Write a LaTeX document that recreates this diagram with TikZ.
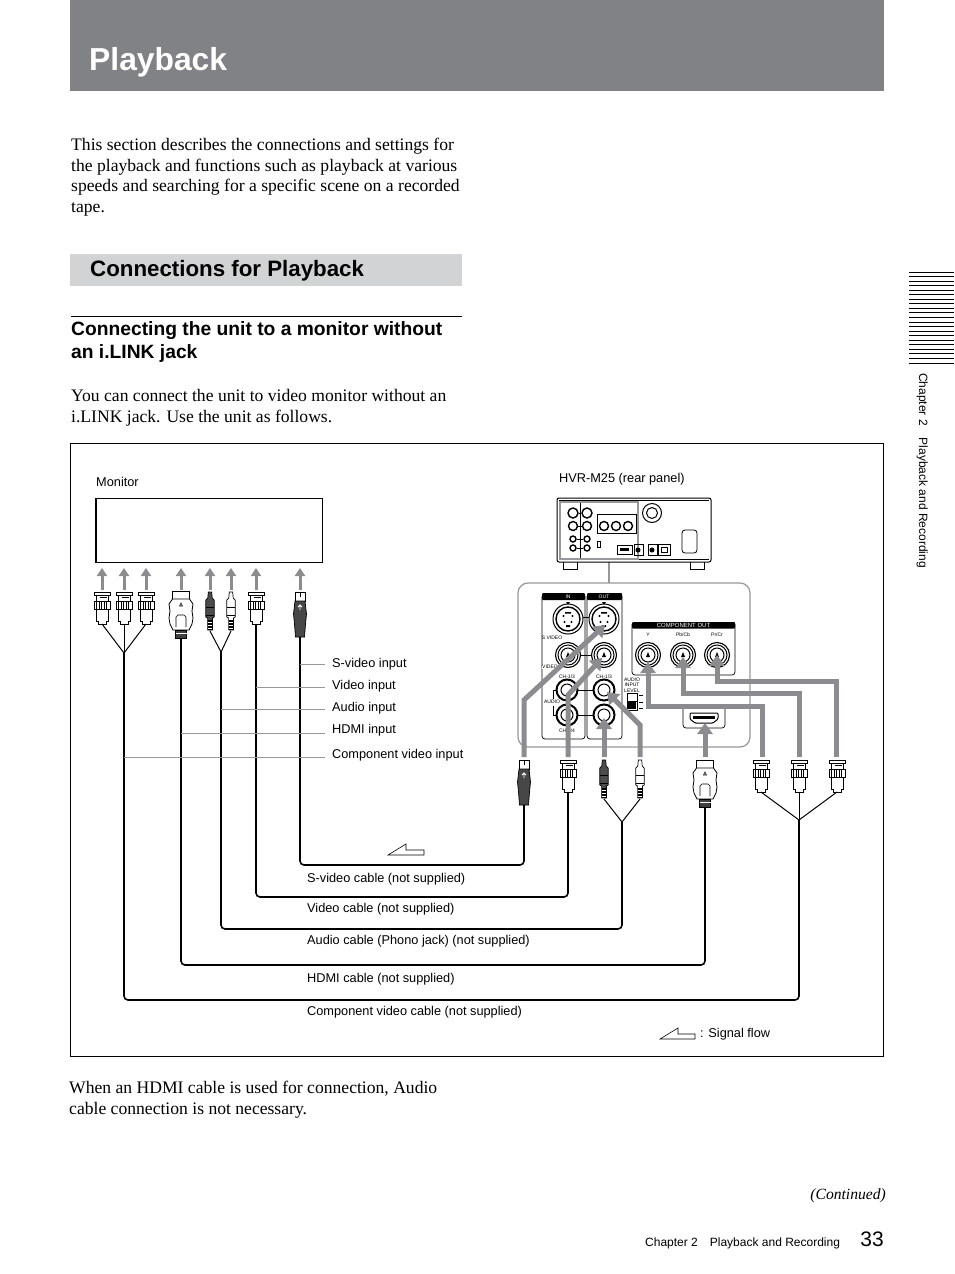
\documentclass[tikz,border=0pt]{standalone}
\usepackage{fontspec}
\setmainfont{Liberation Serif}
\setsansfont{Liberation Sans}
\usetikzlibrary{arrows.meta, shapes.geometric}
\definecolor{band}{RGB}{128,130,133}
\definecolor{bar}{RGB}{209,211,212}
\definecolor{flow}{RGB}{138,140,143}
\definecolor{leadgray}{RGB}{150,152,155}

\begin{document}
\begin{tikzpicture}[
  x=1pt,y=-1pt,
  para/.style={anchor=north west,inner sep=0,align=left,font=\fontsize{17.6}{20.7}\selectfont},
  head/.style={anchor=base west,inner sep=0,align=left,font=\sffamily\bfseries\fontsize{19.25}{23}\selectfont},
  lab/.style={anchor=base west,inner sep=0,font=\sffamily\fontsize{12.75}{14}\selectfont},
  tiny/.style={inner sep=0,font=\sffamily\fontsize{5}{5.4}\selectfont,align=center},
  wire/.style={line width=1.6pt,rounded corners=4pt},
  split/.style={line width=1pt},
  lead/.style={draw=leadgray,line width=1pt},
  up/.style={draw=flow,line width=3pt,-{Triangle[width=10pt,length=8pt]}},
  sig/.style={draw=flow,line width=5pt,-{Triangle[width=15pt,length=11pt]}},
  hollow/.style={draw,line width=.6pt,fill=white},
  ring/.style={circle,draw,line width=1pt,fill=white,inner sep=0},
  bnc/.pic={
    \coordinate (-bot) at (0,32);
    \filldraw[fill=white,line width=.7pt] (-6,17)--(6,17)--(6,29)--(4,29)--(4,32)--(-4,32)--(-4,29)--(-6,29)--cycle;
    \filldraw[fill=white,line width=.7pt] (-6,0)--(6,0)--(6,9)--(-6,9)--cycle;
    \filldraw[fill=white,line width=.7pt] (-8,0) rectangle (8,3.5);
    \fill (-2,4.6) rectangle (5,6.4);
    \filldraw[fill=white,line width=.8pt] (-8,9) rectangle (8,17);
    \draw[line width=.9pt] (-5.5,9)--(-5.5,17) (-3,9)--(-3,17) (-.5,9)--(-.5,17) (2,9)--(2,17) (4.5,9)--(4.5,17);
  },
  rca/.pic={
    \coordinate (-bot) at (0,39);
    \filldraw[fill=#1,line width=.7pt] (-1.7,0)--(1.7,0)--(2.2,6)--(4.2,8)--(4.2,25)--(2.4,26)--(2.4,38)--(-2.4,38)--(-2.4,26)--(-4.2,25)--(-4.2,8)--(-2.2,6)--cycle;
    \draw[line width=.7pt] (-4.2,15)--(4.2,15) (-4.2,23)--(4.2,23);
    \fill[black] (-2.4,28)--(2.4,28)--(2.4,38)--(-2.4,38)--cycle;
    \draw[white,line width=.7pt] (-2.4,30.5)--(2.4,30.5) (-2.4,33.5)--(2.4,33.5) (-2.4,36)--(2.4,36);
  },
  hdmi/.pic={
    \coordinate (-bot) at (0,47);
    \filldraw[fill=white,line width=.8pt] (-8.5,0) rectangle (8.5,8);
    \filldraw[fill=white,line width=.8pt] (-8.5,8)--(8.5,8)--(12,13)--(11,20)--(12,27)--(11,33)--(8,39)--(-8,39)--(-11,33)--(-12,27)--(-11,20)--(-12,13)--cycle;
    \draw[line width=.6pt] (-5,36)--(-5,26)--(-3,24)--(3,24)--(5,26)--(5,36);
    \draw[line width=.6pt] (0,12)--(1.5,15)--(-1.5,15)--cycle;
    \filldraw[fill=black!75,line width=.7pt] (-5.5,39) rectangle (5.5,47);
    \draw[white,line width=.6pt] (-5.5,42)--(5.5,42);
  },
  svid/.pic={
    \coordinate (-bot) at (0,45);
    \filldraw[fill=white,line width=.7pt] (-5,0) rectangle (5,9);
    \draw[line width=.7pt] (0,1)--(0,5);
    \filldraw[fill=black!72,line width=.7pt] (-5,9)--(5,9)--(6.5,22)--(5.5,32)--(4.5,45)--(-4.5,45)--(-5.5,32)--(-6.5,22)--(-5,9)--cycle;
    \draw[white,line width=.8pt] (0,18)--(0,13) (-2,15)--(0,13)--(2,15);
  },
  jacksv/.pic={
    \node[ring,minimum size=30pt,line width=1pt] (-o) at (0,0) {};
    \node[ring,minimum size=24pt,line width=1.4pt] (-i) at (0,0) {};
    \fill (-4.5,-3) circle (1.2) (4.5,-3) circle (1.2) (-3.5,3) circle (1.2) (3.5,3) circle (1.2);
    \fill (-3,-7) rectangle (3,-5.5) (-2,6) rectangle (2,8);
  },
  jackbnc/.pic={
    \node[ring,minimum size=25pt,line width=1.1pt] (-o) at (0,0) {};
    \node[ring,minimum size=20pt,line width=1pt] (-i) at (0,0) {};
    \node[ring,minimum size=14pt,line width=1pt] (-c) at (0,0) {};
    \fill (0,-3)--(2,2)--(-2,2)--cycle;
  },
  jackrca/.pic={
    \node[ring,minimum size=21pt,line width=2pt] (-o) at (0,0) {};
    \node[ring,minimum size=12pt,line width=1pt] (-i) at (0,0) {};
  }
]
\useasboundingbox (0,0) rectangle (954,1274);

\fill[band] (70,0) rectangle (884,91);
\node[anchor=base west,inner sep=0,text=white,font=\sffamily\bfseries\fontsize{31.8}{34}\selectfont] (title) at (89,70) {Playback};
\node[para] (intro) at (71,138) {This section describes the connections and settings for\\the playback and functions such as playback at various\\speeds and searching for a specific scene on a recorded\\tape.};
\fill[bar] (70,254) rectangle (462,286);
\node[anchor=base west,inner sep=0,font=\sffamily\bfseries\fontsize{22.3}{25}\selectfont] (section) at (90,276) {Connections for Playback};
\draw[line width=.7pt] (71,316)--(462,316);
\node[head] (subhead) at (71,358.5) {Connecting the unit to a monitor without\\an i.LINK jack};
\node[para] (youcan) at (71,389) {You can connect the unit to video monitor without an\\i.LINK jack. Use the unit as follows.};

\draw[line width=.7pt] (70.5,443.5) rectangle (883.5,1056.5);

\node[lab] (monitorlab) at (96,486) {Monitor};
\draw[line width=1.1pt] (96,498.5) rectangle (322.5,562.5);
\node[lab] (rearlab) at (559,482) {HVR-M25 (rear panel)};

\draw[leadgray,line width=1.3pt] (609,562)--(609,583);
\draw[line width=1pt,rounded corners=2pt] (557,498) rectangle (711,562);
\draw[line width=.6pt] (559,500)--(709,500) (559,559)--(709,559);
\draw[leadgray,line width=1.2pt] (560,502) rectangle (638,559);
\draw[line width=.6pt] (580,503)--(580,558);
\draw[line width=.8pt] (563,562)--(563,569)--(577,569)--(577,562) (690,562)--(690,569)--(704,569)--(704,562);
\node[ring,minimum size=10pt,line width=1.4pt] (ra) at (573,513) {};
\node[ring,minimum size=10pt,line width=1.4pt] (rb) at (587,513) {};
\node[ring,minimum size=9pt,line width=1.4pt] (rc) at (573,526) {};
\node[ring,minimum size=9pt,line width=1.4pt] (rd) at (587,526) {};
\node[ring,minimum size=6pt,line width=1.4pt] (re) at (573,539) {};
\node[ring,minimum size=6pt,line width=1.4pt] (rf) at (587,539) {};
\node[ring,minimum size=6pt,line width=1.4pt] (rg) at (573,548) {};
\node[ring,minimum size=6pt,line width=1.4pt] (rh) at (587,548) {};
\draw[line width=.6pt] (ra)--(rb) (rc)--(rd) (re)--(rf) (rg)--(rh);
\draw[line width=.6pt] (597,533)--(597,514)--(636,514)--(636,533)--cycle;
\node[ring,minimum size=9pt,line width=1.4pt] (ri) at (604,526) {};
\node[ring,minimum size=9pt,line width=1.4pt] (rj) at (616,526) {};
\node[ring,minimum size=9pt,line width=1.4pt] (rk) at (628,526) {};
\node[ring,minimum size=19pt] (knob) at (652,513) {};
\node[ring,minimum size=11pt] (knobin) at (652,513) {};
\draw[line width=.8pt,rounded corners=3pt] (682,530) rectangle (697,553);
\draw[line width=.7pt] (597,541) rectangle (600,547);
\draw[line width=.8pt] (617,545) rectangle (632,554);
\fill (620,548) rectangle (629,551);
\draw[line width=.6pt] (634,544) rectangle (643,555) (648,544) rectangle (657,555) (658,544) rectangle (670,555);
\node[ring,fill=black,minimum size=4pt] (rl) at (638,550) {};
\node[ring,fill=black,minimum size=4pt] (rm) at (652,550) {};
\draw[line width=.8pt] (661,547) rectangle (667,552);

\draw[leadgray,line width=1.2pt,rounded corners=10pt] (518,583) rectangle (750,747);
\draw[line width=.7pt,rounded corners=3pt] (542,596)--(542,739)--(585,739)--(585,596);
\draw[line width=.7pt,rounded corners=3pt] (587,596)--(587,739)--(622,739)--(622,596);
\fill[rounded corners=1pt] (542,593) rectangle (585,600);
\fill[rounded corners=1pt] (587,593) rectangle (622,600);
\fill (566,602)--(570,602)--(568,605)--cycle (602,602)--(606,602)--(604,605)--cycle;
\node[tiny,text=white] (inlab) at (568,596.5) {IN};
\node[tiny,text=white] (outlab) at (604,596.5) {OUT};
\draw[line width=.8pt] (568,617)--(604,617) (568,655)--(604,655) (567,690)--(604,690) (567,715)--(604,715);
\draw[line width=.7pt] (556,690)-|(553,699) (556,715)-|(553,706);
\pic (sin) at (568,619) {jacksv};
\pic (sout) at (604,619) {jacksv};
\pic (vin) at (568,655) {jackbnc};
\pic (vout) at (604,655) {jackbnc};
\pic (ain) at (567,690) {jackrca};
\pic (aout) at (604,690) {jackrca};
\pic (bin) at (567,715) {jackrca};
\pic (bout) at (604,715) {jackrca};
\node[tiny] (svideolab) at (552,638) {S VIDEO};
\node[tiny,fill=white] (videolab) at (550,667) {VIDEO};
\node[tiny] (ch1in) at (567,676.5) {CH-1/3};
\node[tiny] (ch1out) at (604,676.5) {CH-1/3};
\node[tiny,fill=white] (audiolab) at (552,702) {AUDIO};
\node[tiny] (ch2in) at (567,731) {CH-2/4};

\draw[line width=.7pt,rounded corners=3pt] (632,624)--(632,675)--(735,675)--(735,624);
\fill[rounded corners=1pt] (632,622) rectangle (735,628.5);
\node[tiny,text=white,font=\sffamily\fontsize{6}{6}\selectfont] (complab) at (683.5,625.5) {COMPONENT OUT};
\node[tiny] (ylab) at (648,634.5) {Y};
\node[tiny] (pblab) at (683,634.5) {Pb/Cb};
\node[tiny] (prlab) at (717,634.5) {Pr/Cr};
\pic (yj) at (648,655) {jackbnc};
\pic (pbj) at (683,655) {jackbnc};
\pic (prj) at (717,655) {jackbnc};
\node[tiny] (levellab) at (632,685) {AUDIO\\INPUT\\LEVEL};
\draw[line width=.8pt] (627,693) rectangle (637,710) (627,701)--(637,701);
\fill (628,702) rectangle (636,709);
\draw[line width=.6pt] (639,695)--(643,695) (639,702)--(643,702) (639,708)--(643,708);
\draw[line width=.7pt,rounded corners=3pt] (683,704)--(683,728)--(725,728)--(725,704);
\draw[line width=1pt,rounded corners=1pt,fill=white] (690,713)--(718,713)--(718,719)--(713,723)--(695,723)--(690,719)--cycle;
\fill (693,716) rectangle (715,719);

\coordinate (mon1) at (102,590);
\coordinate (mon2) at (124,590);
\coordinate (mon3) at (146,590);
\coordinate (mon4) at (181,590);
\coordinate (mon5) at (210,590);
\coordinate (mon6) at (231,590);
\coordinate (mon7) at (256,590);
\coordinate (mon8) at (300,590);
\coordinate (montop1) at (102,568);
\coordinate (montop2) at (124,568);
\coordinate (montop3) at (146,568);
\coordinate (montop4) at (181,568);
\coordinate (montop5) at (210,568);
\coordinate (montop6) at (231,568);
\coordinate (montop7) at (256,568);
\coordinate (montop8) at (300,568);
\draw[up] (mon1)--(montop1);
\draw[up] (mon2)--(montop2);
\draw[up] (mon3)--(montop3);
\draw[up] (mon4)--(montop4);
\draw[up] (mon5)--(montop5);
\draw[up] (mon6)--(montop6);
\draw[up] (mon7)--(montop7);
\draw[up] (mon8)--(montop8);

\pic (py) at (102,592) {bnc};
\pic (pb) at (124,592) {bnc};
\pic (pr) at (146,592) {bnc};
\pic (hd) at (181,591) {hdmi};
\pic (al) at (210,592) {rca={black!70}};
\pic (ar) at (231,592) {rca=white};
\pic (vd) at (256,592) {bnc};
\pic (sv) at (300,592) {svid};

\pic (outy) at (761,760) {bnc};
\pic (outpb) at (799,760) {bnc};
\pic (outpr) at (837,760) {bnc};
\pic (outhd) at (705,760) {hdmi};
\pic (outal) at (604,760) {rca={black!70}};
\pic (outar) at (640,760) {rca=white};
\pic (outvd) at (568,760) {bnc};
\pic (outsv) at (524,760) {svid};

\coordinate (compjoin) at (124,653);
\coordinate (audiojoin) at (221,652);
\coordinate (outcompjoin) at (799,820);
\coordinate (outaudiojoin) at (622,822);
\coordinate (compturn) at (799,1000);
\coordinate (hdmiturn) at (705,965);
\coordinate (audioturn) at (622,929);
\coordinate (videoturn) at (568,897);
\coordinate (svideoturn) at (524,865);

\draw[split] (py-bot)--(compjoin);
\draw[split] (pb-bot)--(compjoin);
\draw[split] (pr-bot)--(compjoin);
\draw[split] (al-bot)--(audiojoin);
\draw[split] (ar-bot)--(audiojoin);
\draw[split] (outy-bot)--(outcompjoin);
\draw[split] (outpb-bot)--(outcompjoin);
\draw[split] (outpr-bot)--(outcompjoin);
\draw[split] (outal-bot)--(outaudiojoin);
\draw[split] (outar-bot)--(outaudiojoin);

\draw[wire] (compjoin)|-(compturn)--(outcompjoin);
\draw[wire] (hd-bot)|-(hdmiturn)--(outhd-bot);
\draw[wire] (audiojoin)|-(audioturn)--(outaudiojoin);
\draw[wire] (vd-bot)|-(videoturn)--(outvd-bot);
\draw[wire] (sv-bot)|-(svideoturn)--(outsv-bot);

\coordinate (leadend1) at (325,664);
\coordinate (leadend2) at (325,687);
\coordinate (leadend3) at (325,709);
\coordinate (leadend4) at (325,733);
\coordinate (leadend5) at (325,757);
\coordinate (leadstart1) at (300,664);
\coordinate (leadstart2) at (256,687);
\coordinate (leadstart3) at (221,709);
\coordinate (leadstart4) at (181,733);
\coordinate (leadstart5) at (124,757);
\draw[lead] (leadstart1)--(leadend1);
\draw[lead] (leadstart2)--(leadend2);
\draw[lead] (leadstart3)--(leadend3);
\draw[lead] (leadstart4)--(leadend4);
\draw[lead] (leadstart5)--(leadend5);
\node[lab] (svin) at (332,667) {S-video input};
\node[lab] (vdin) at (332,689) {Video input};
\node[lab] (auin) at (332,711) {Audio input};
\node[lab] (hdin) at (332,733) {HDMI input};
\node[lab] (cmin) at (332,758) {Component video input};

\coordinate (fa1) at (524,757);
\coordinate (fa2) at (524,700);
\coordinate (fa3) at (605,625);
\coordinate (fb1) at (568,757);
\coordinate (fb2) at (568,695);
\coordinate (fb3) at (602,658);
\coordinate (fc1) at (604,757);
\coordinate (fc2) at (604,718);
\coordinate (fd1) at (640,757);
\coordinate (fd2) at (640,725);
\coordinate (fd3) at (607,692);
\coordinate (fe1) at (705,757);
\coordinate (fe2) at (705,723);
\coordinate (ff1) at (762,757);
\coordinate (ff2) at (762,706);
\coordinate (ff3) at (648,706);
\coordinate (ff4) at (648,662);
\coordinate (fg1) at (799,757);
\coordinate (fg2) at (799,693);
\coordinate (fg3) at (683,693);
\coordinate (fg4) at (683,657);
\coordinate (fh1) at (836,757);
\coordinate (fh2) at (836,681);
\coordinate (fh3) at (717,681);
\coordinate (fh4) at (717,655);
\draw[sig] (fa1)--(fa2)--(fa3);
\draw[sig] (fb1)--(fb2)--(fb3);
\draw[sig] (fc1)--(fc2);
\draw[sig] (fd1)--(fd2)--(fd3);
\draw[sig] (fe1)--(fe2);
\draw[sig] (ff1)--(ff2)--(ff3)--(ff4);
\draw[sig] (fg1)--(fg2)--(fg3)--(fg4);
\draw[sig] (fh1)--(fh2)--(fh3)--(fh4);

\draw[hollow] (388,855)--(406,844)--(406,850)--(424,850)--(424,855)--cycle;
\node[lab] (svcable) at (307,882) {S-video cable (not supplied)};
\node[lab] (vdcable) at (307,912) {Video cable (not supplied)};
\node[lab] (aucable) at (307,944) {Audio cable (Phono jack) (not supplied)};
\node[lab] (hdcable) at (307,982) {HDMI cable (not supplied)};
\node[lab] (cmcable) at (307,1015) {Component video cable (not supplied)};
\draw[hollow] (660,1039)--(678,1028)--(678,1034)--(695,1034)--(695,1039)--cycle;
\node[lab] (signal) at (700,1037) {: Signal flow};

\node[para] (hdminote) at (69,1081) {When an HDMI cable is used for connection, Audio\\cable connection is not necessary.};

\foreach \ypos in {272,276.55,...,364}
  \draw[line width=1pt] (909,\ypos)--(954,\ypos);
\node[anchor=base west,inner sep=0,rotate=-90,font=\sffamily\fontsize{12}{14}\selectfont] (sidelab) at (919,373) {Chapter 2\hspace{12pt}Playback and Recording};
\node[anchor=base east,inner sep=0,font=\itshape\fontsize{15.6}{17}\selectfont] (cont) at (886,1199) {(Continued)};
\node[anchor=base west,inner sep=0,font=\sffamily\fontsize{12}{14}\selectfont] (foot) at (645,1246) {Chapter 2\hspace{12pt}Playback and Recording};
\node[anchor=base east,inner sep=0,font=\sffamily\fontsize{21}{23}\selectfont] (pageno) at (884,1246) {33};
\end{tikzpicture}
\end{document}
